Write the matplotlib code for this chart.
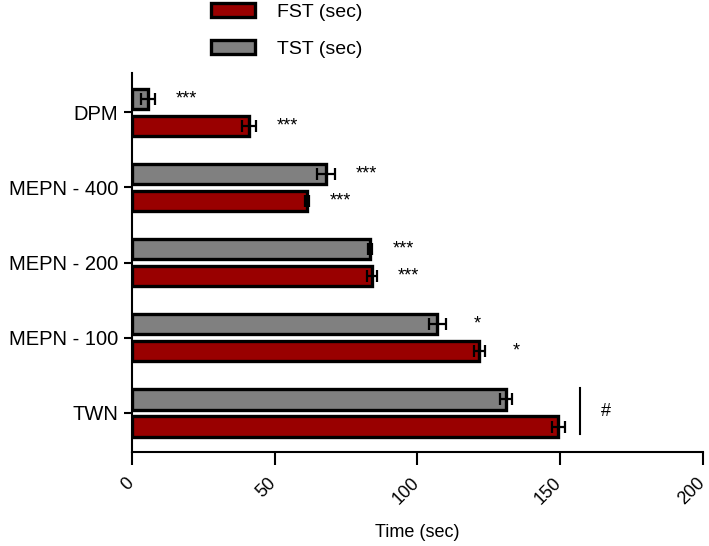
import numpy as np
import matplotlib.pyplot as plt
import matplotlib.transforms as mtransforms
from matplotlib.patches import Patch

plt.rcParams['font.family'] = ['Liberation Sans', 'DejaVu Sans']

# Datos (de arriba hacia abajo)
groups = ['DPM', 'MEPN - 400', 'MEPN - 200', 'MEPN - 100', 'TWN']
tst = [5.6, 68, 83.4, 107, 131]
tst_err = [2.5, 3, 0.6, 3, 2.2]
fst = [41, 61.3, 84, 121.7, 149.3]
fst_err = [2.5, 0.6, 1.7, 2, 2.3]
tst_sig = ['***', '***', '***', '*', '']
fst_sig = ['***', '***', '***', '*', '']

red = '#990000'
gray = '#808080'

fig = plt.figure(figsize=(7.09, 5.46), dpi=100)
ax = fig.add_axes([0.186, 0.172, 0.8055, 0.694])

y = np.arange(len(groups))[::-1]
h = 0.27
off = 0.18

ax.barh(y + off, tst, height=h, color=gray, edgecolor='black', linewidth=2.4, zorder=2)
ax.barh(y - off, fst, height=h, color=red, edgecolor='black', linewidth=2.4, zorder=2)
ax.errorbar(tst, y + off, xerr=tst_err, fmt='none', ecolor='black',
            elinewidth=1.6, capsize=4.5, capthick=1.6, zorder=3)
ax.errorbar(fst, y - off, xerr=fst_err, fmt='none', ecolor='black',
            elinewidth=1.6, capsize=4.5, capthick=1.6, zorder=3)

# Asteriscos de significancia
for i in range(len(groups)):
    if tst_sig[i]:
        ax.text(tst[i] + tst_err[i] + 11, y[i] + off, tst_sig[i],
                ha='center', va='center', fontsize=13)
    if fst_sig[i]:
        ax.text(fst[i] + fst_err[i] + 11, y[i] - off, fst_sig[i],
                ha='center', va='center', fontsize=13)

# Barra y "#" para TWN
ax.plot([157, 157], [y[-1] - 0.28, y[-1] + 0.33], color='black', lw=1.5)
ax.text(166, y[-1] + 0.02, '#', ha='center', va='center', fontsize=13)

ax.set_xlim(0, 200)
ax.set_ylim(-0.52, 4.52)
ax.set_yticks(y)
ax.set_yticklabels(groups, fontsize=14.5)
ax.set_xticks([0, 50, 100, 150, 200])
ax.set_xticklabels(['0', '50', '100', '150', '200'], rotation=45,
                   ha='right', va='top', fontsize=13)
ax.tick_params(axis='x', length=9, width=1.5, pad=7)
ax.tick_params(axis='y', length=6, width=1.5, pad=4)
ax.set_xlabel('Time (sec)', fontsize=13, labelpad=12)

# desplazar un poco las etiquetas del eje x a la derecha
shift = mtransforms.ScaledTranslation(5 / 100, 0, fig.dpi_scale_trans)
for lab in ax.get_xticklabels():
    lab.set_transform(lab.get_transform() + shift)

for s in ['top', 'right']:
    ax.spines[s].set_visible(False)
for s in ['left', 'bottom']:
    ax.spines[s].set_linewidth(1.5)

# Leyenda
handles = [Patch(facecolor=red, edgecolor='black', linewidth=2.4, label='FST (sec)'),
           Patch(facecolor=gray, edgecolor='black', linewidth=2.4, label='TST (sec)')]
fig.legend(handles=handles, loc='upper left', bbox_to_anchor=(0.297, 0.995),
           frameon=False, fontsize=14, handlelength=2.3, handleheight=0.75,
           handletextpad=1.1, labelspacing=1.0, borderpad=0, borderaxespad=0)

plt.savefig('out.png', dpi=100)
